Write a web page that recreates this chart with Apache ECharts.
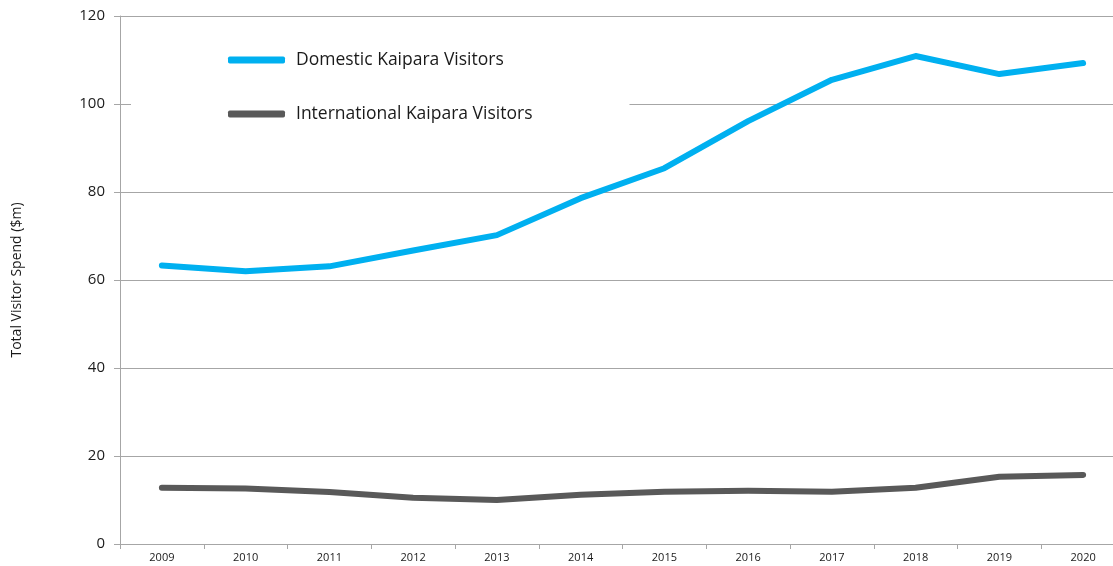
<!DOCTYPE html>
<html><head><meta charset="utf-8">
<script src="https://cdn.jsdelivr.net/npm/echarts@6/dist/echarts.min.js"></script>
<style>html,body{margin:0;padding:0;background:#fff}#c{width:1113px;height:566px}</style>
</head><body><div id="c"></div>
<script>
const years = ['2009','2010','2011','2012','2013','2014','2015','2016','2017','2018','2019','2020'];
const domestic = [63.3, 62.0, 63.1, 66.7, 70.2, 78.6, 85.4, 96.1, 105.5, 110.9, 106.8, 109.3];
const international = [12.8, 12.6, 11.8, 10.5, 10.0, 11.2, 11.9, 12.1, 11.9, 12.8, 15.3, 15.7];
const yTicks = [0, 20, 40, 60, 80, 100, 120];
const font = 'Open Sans, sans-serif';
const chart = echarts.init(document.getElementById('c'));
chart.setOption({
  animation: false,
  backgroundColor: '#fff',
  grid: { left: 120, top: 16, width: 1005, height: 528, containLabel: false, outerBoundsMode: 'none' },
  legend: {
    orient: 'vertical', left: 131, top: 39,
    padding: [12, 97, 12, 97],
    backgroundColor: '#fff',
    itemWidth: 57, itemHeight: 7, itemGap: 36, icon: 'roundRect',
    textStyle: { fontFamily: font, fontSize: 17.5, color: '#1a1a1a', padding: [0, 0, 0, 6] },
    data: ['Domestic Kaipara Visitors', 'International Kaipara Visitors']
  },
  xAxis: {
    type: 'category', data: years, boundaryGap: true,
    axisLine: { lineStyle: { color: '#a6a6a6', width: 1 } },
    axisTick: { show: true, length: 5, inside: false, lineStyle: { color: '#a6a6a6' } },
    axisLabel: { fontFamily: font, fontSize: 11, color: '#1a1a1a', margin: 8 },
    splitLine: { show: false }
  },
  yAxis: {
    type: 'value', min: yTicks[0], max: yTicks[yTicks.length - 1], interval: 20,
    name: 'Total Visitor Spend ($m)', nameLocation: 'middle', nameGap: 96, nameRotate: 90,
    nameTextStyle: { fontFamily: font, fontSize: 14, color: '#1a1a1a' },
    axisLine: { show: true, lineStyle: { color: '#a6a6a6', width: 1 } },
    axisTick: { show: true, length: 6, lineStyle: { color: '#a6a6a6' } },
    axisLabel: { fontFamily: font, fontSize: 15, color: '#1a1a1a', margin: 15 },
    splitLine: { show: true, lineStyle: { color: '#a6a6a6', width: 1 } }
  },
  series: [
    { name: 'Domestic Kaipara Visitors', type: 'line', data: domestic, showSymbol: false, symbol: 'none',
      color: '#00B0F0', lineStyle: { width: 6, color: '#00B0F0', cap: 'round', join: 'round' } },
    { name: 'International Kaipara Visitors', type: 'line', data: international, showSymbol: false, symbol: 'none',
      color: '#595959', lineStyle: { width: 6, color: '#595959', cap: 'round', join: 'round' } }
  ]
});
</script></body></html>
